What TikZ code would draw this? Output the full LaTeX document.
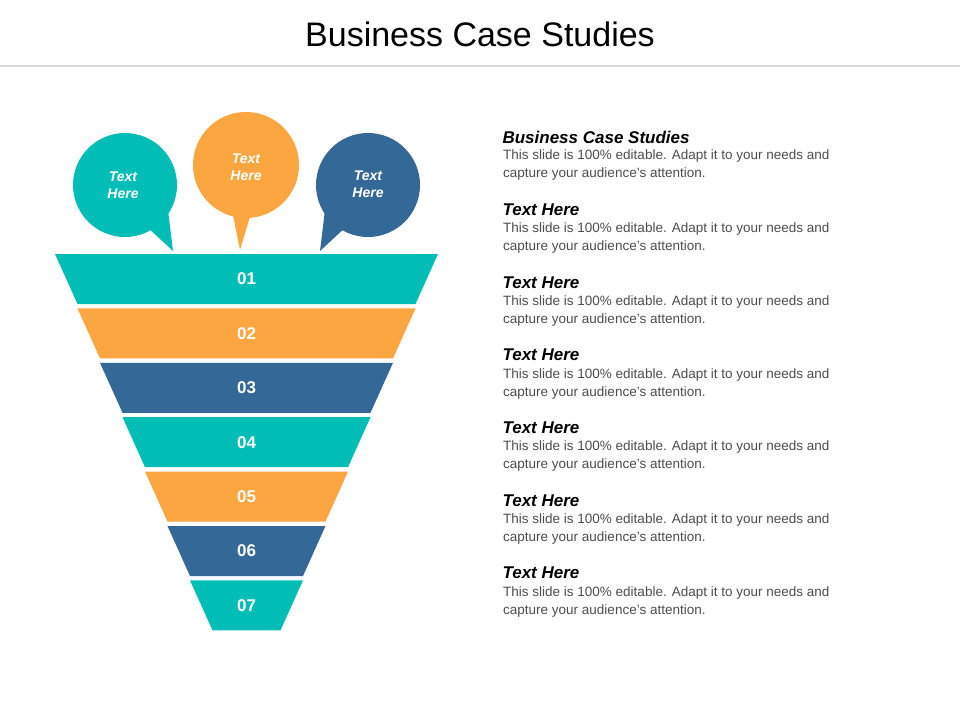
\documentclass[tikz,border=0pt]{standalone}
\usepackage{fontspec}
\setmainfont{Liberation Sans}
\definecolor{tealc}{RGB}{0,190,182}
\definecolor{orangec}{RGB}{251,166,64}
\definecolor{bluec}{RGB}{52,104,150}
\begin{document}
\begin{tikzpicture}[
        x = 1pt, y = -1pt, % pixel-like units
        band/.style = {text = white, font = \bfseries\fontsize{17}{20}\selectfont},
        bubble/.style = {text = white, align = center, font = \bfseries\itshape\fontsize{14}{17}\selectfont},
        head/.style = {anchor = west, font = \bfseries\itshape\fontsize{17}{20}\selectfont},
        body/.style = {anchor = north west, align = left, text = black!70, font = \fontsize{13.5}{18}\selectfont}
    ]

    \useasboundingbox (0,0) rectangle (960,720);

    \node (title) at (480,34) {\fontsize{34}{40}\selectfont Business Case Studies};
    \draw[black!15, line width = 2pt] (0,66) -- (960,66);

    % funnel bands
    \foreach \i/\c in {1/tealc, 2/orangec, 3/bluec, 4/tealc, 5/orangec, 6/bluec, 7/tealc} {
        \pgfmathsetmacro{\t}{254 + 54.4*(\i-1)}
        \pgfmathsetmacro{\l}{55 + 22.5*(\i-1)}
        \pgfmathsetmacro{\r}{438 - 22.5*(\i-1)}
        \fill[\c] (\l,\t) -- (\r,\t) -- (\r-22.5,\t+50) -- (\l+22.5,\t+50) -- cycle;
        \node[band] (b\i) at (246.5,\t+25) {0\i};
    }

    % bubbles
    \fill[tealc] (125,185) circle (52);
    \fill[tealc] (145,225) -- (173,251) -- (168,210) -- cycle;
    \node[bubble] (q1) at (123,185) {Text\\Here};
    \fill[orangec] (246,165) circle (53);
    \fill[orangec] (232,210) -- (240,250) -- (252,210) -- cycle;
    \node[bubble] (q2) at (246,167) {Text\\Here};
    \fill[bluec] (368,185) circle (52);
    \fill[bluec] (325,210) -- (320,251) -- (348,225) -- cycle;
    \node[bubble] (q3) at (368,184) {Text\\Here};

    % text column
    \foreach \i/\h in {0/Business Case Studies, 1/Text Here, 2/Text Here, 3/Text Here, 4/Text Here, 5/Text Here, 6/Text Here} {
        \pgfmathsetmacro{\y}{137 + 72.7*\i}
        \node[head] (h\i) at (499,\y) {\h};
        \node[body, inner sep = 0pt] (t\i) at (503,\y+13) {This slide is 100\% editable. Adapt it to your needs and\\capture your audience's attention.};
    }

\end{tikzpicture}
\end{document}
